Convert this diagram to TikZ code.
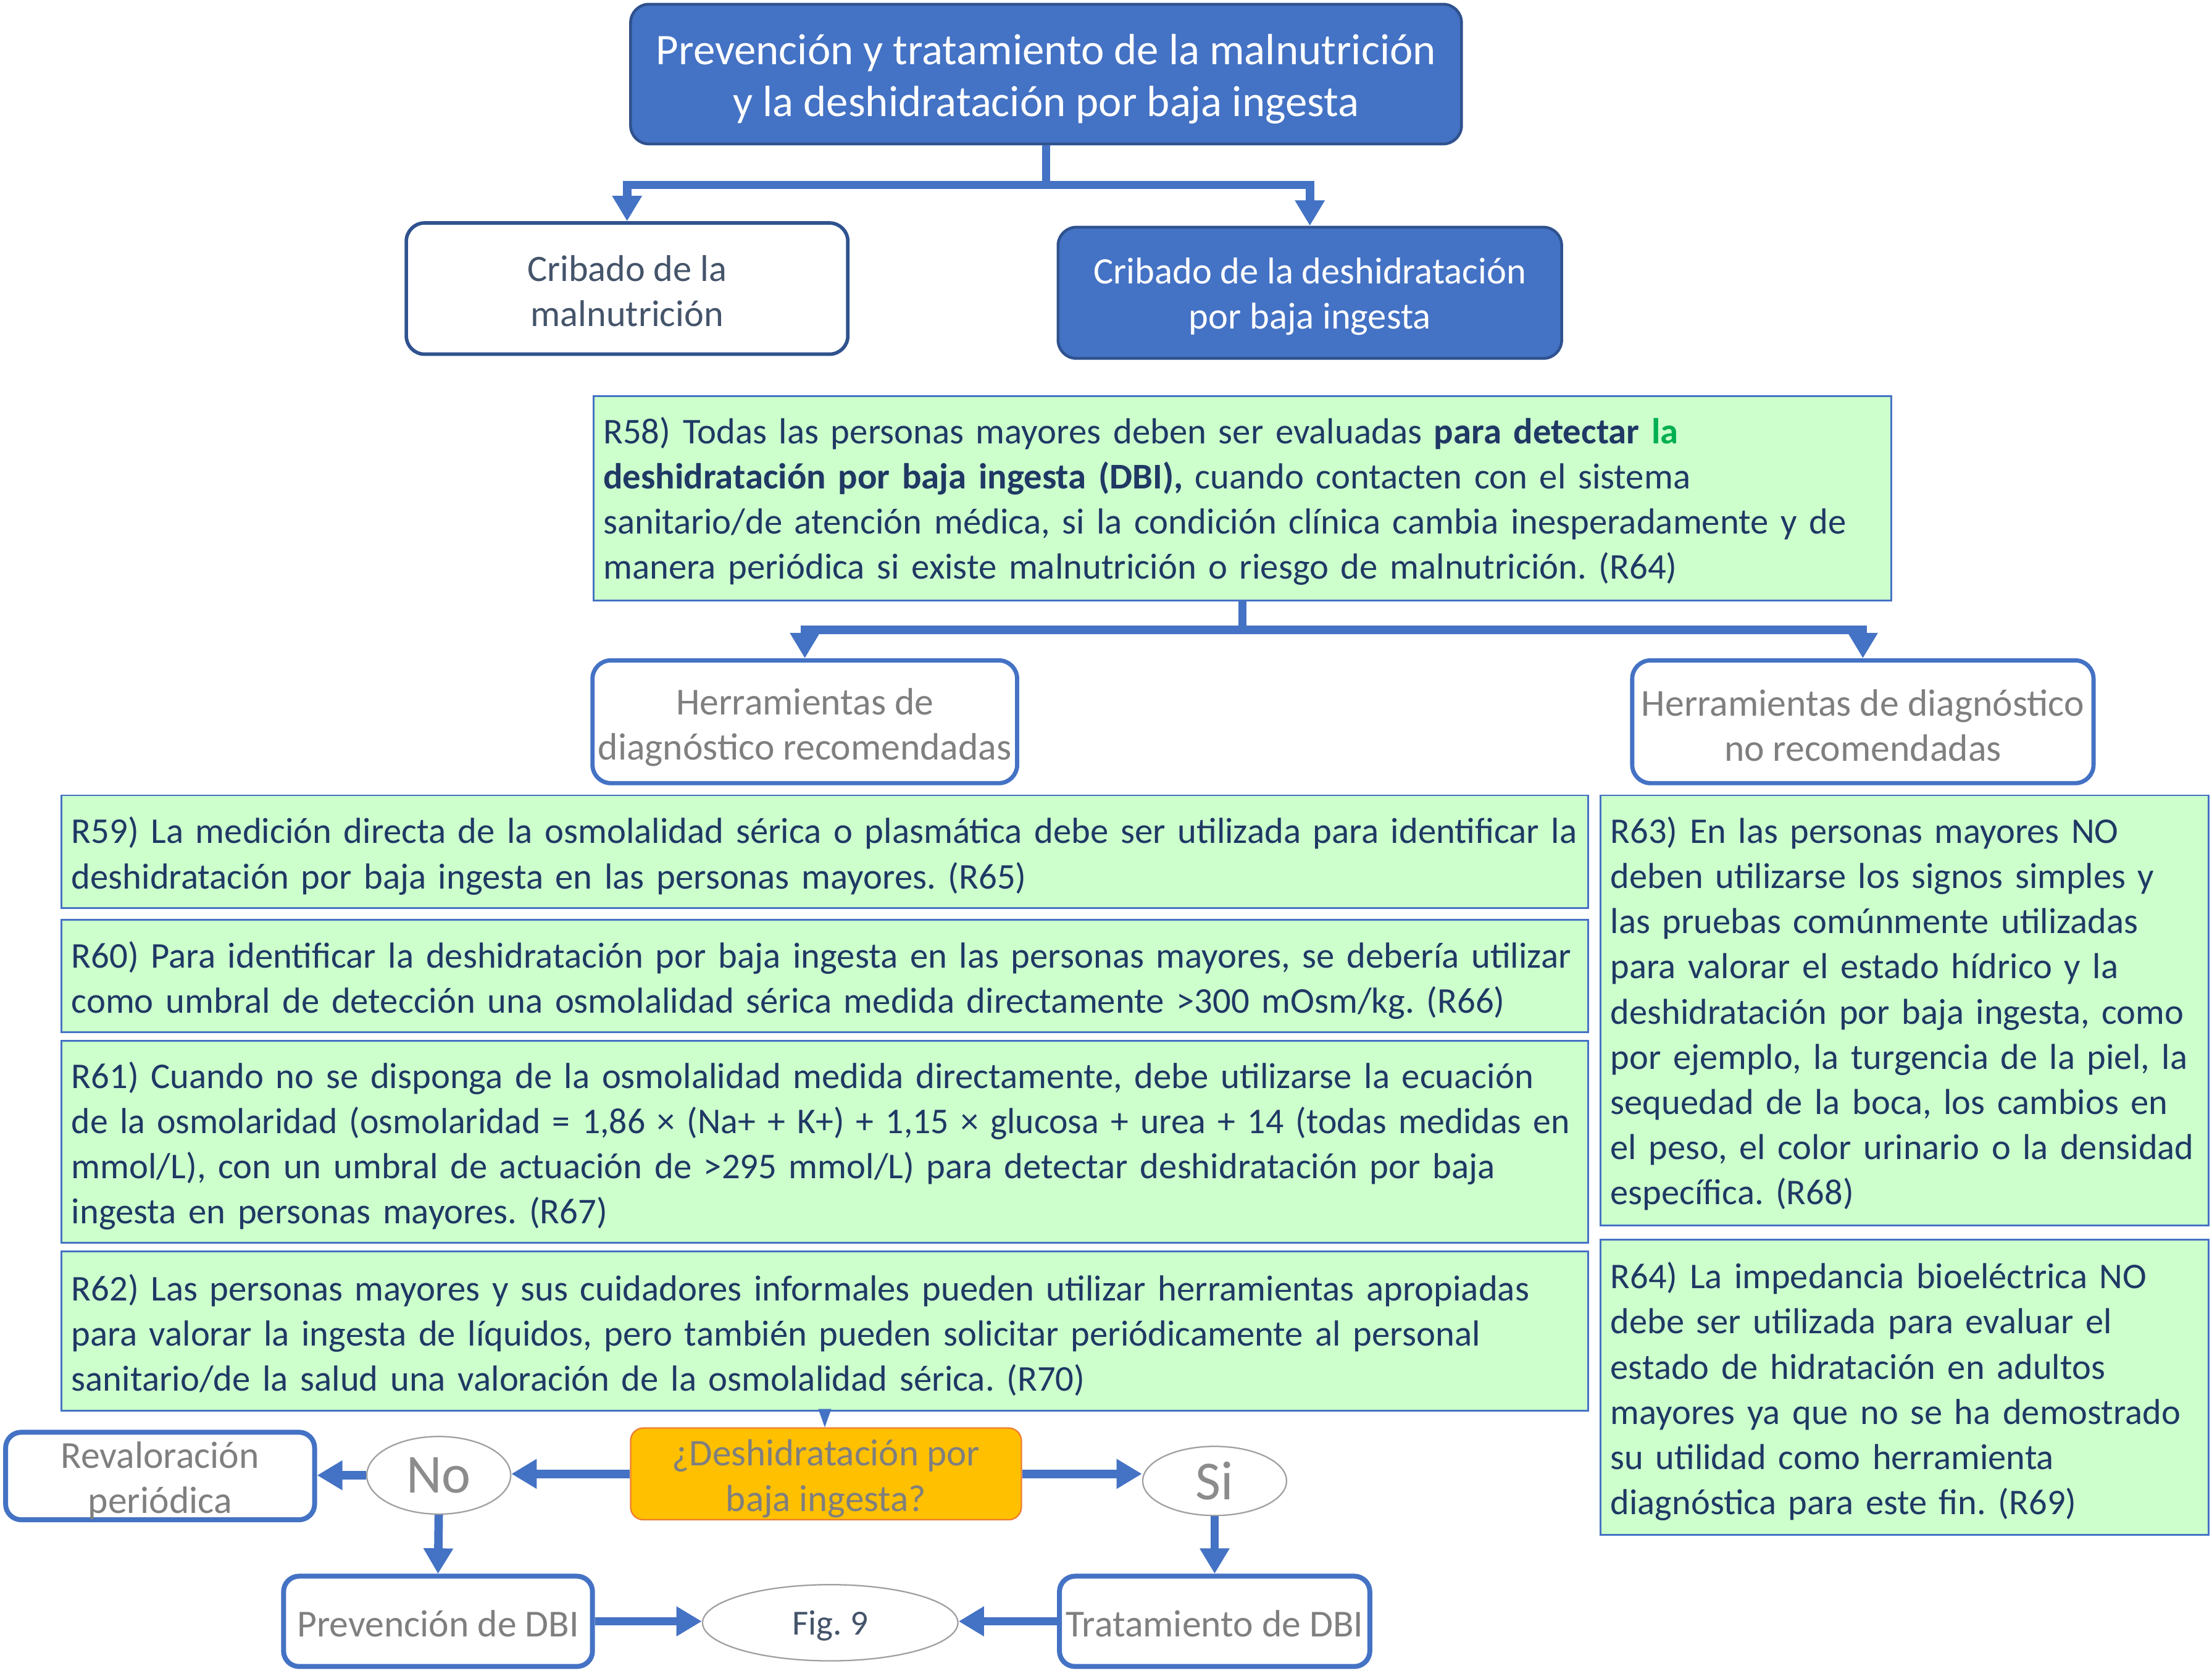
\documentclass[tikz,border=0pt]{standalone}
\usepackage{graphicx}
\usepackage{fontspec}
\setmainfont{Carlito}
\usetikzlibrary{arrows.meta,shapes.geometric}
\definecolor{bl}{HTML}{4472C4}
\definecolor{dbl}{HTML}{2F528F}
\definecolor{gr}{HTML}{CCFFCC}
\definecolor{navy}{HTML}{1F3864}
\definecolor{slate}{HTML}{44546A}
\definecolor{gtxt}{HTML}{7F7F7F}
\definecolor{gold}{HTML}{FFC000}
\definecolor{orng}{HTML}{ED7D31}
\definecolor{grn}{HTML}{00B050}
\definecolor{ellg}{HTML}{A0A0A0}
\newcommand\Lx[1]{\mbox{#1}}
\newcommand\Up[1]{\rule{0pt}{#1em}}
\frenchspacing
\tikzset{
  bluebox/.style={draw=dbl, line width=2pt, fill=bl, rounded corners=13pt, text=white, align=center, inner sep=0pt},
  wbox/.style={draw=dbl, line width=2.5pt, fill=white, rounded corners=13pt, text=slate, align=center, inner sep=0pt},
  hbox/.style={draw=bl, line width=3pt, fill=white, rounded corners=13pt, text=gtxt, align=center, inner sep=0pt, font=\fontsize{27}{32}\selectfont},
  sbox/.style={draw=bl, line width=3.5pt, fill=white, rounded corners=11pt, text=gtxt, align=center, inner sep=0pt, font=\fontsize{27}{32}\selectfont},
  rbox/.style={draw=bl, line width=1.3pt, fill=gr, anchor=north west, inner xsep=7pt, inner ysep=0pt, align=left, text=navy, font=\fontsize{25.7}{32}\selectfont},
  rboxr/.style={rbox, font=\fontsize{25.6}{32}\selectfont},
  ell/.style={ellipse, draw=ellg, line width=1pt, fill=white, inner sep=0pt},
  conn/.style={draw=bl, line width=6pt, -{Triangle[width=20pt,length=18pt]}},
}
\begin{document}
\begin{tikzpicture}[x=1pt,y=-1pt]
\useasboundingbox[fill=white] (0,0) rectangle (1568,1184);

% top
\node[bluebox, minimum width=589pt, minimum height=99pt, font=\fontsize{31}{37}\selectfont] (title) at (741.5,52.5)
  {\Up{0.92}Prevención y tratamiento de la malnutrición\\y la deshidratación por baja ingesta};
\node[wbox, minimum width=313pt, minimum height=93pt, font=\fontsize{26.4}{32}\selectfont] (cm) at (444.5,204.5)
  {\Up{0.84}Cribado de la\\malnutrición};
\node[bluebox, minimum width=357pt, minimum height=93pt, font=\fontsize{26.5}{32}\selectfont] (cd) at (928.5,207.5)
  {\Up{0.9}Cribado de la deshidratación\\por baja ingesta};

\draw[conn] (title.south) -- ++(0,28) -| (cm.north);
\draw[conn] (title.south) -- ++(0,28) -| (cd.north);

% R58
\node[rbox, minimum width=920pt, minimum height=145pt, text width=906pt] (r58) at (420,280)
  {\Lx{\Up{0.89}R58) Todas las personas mayores deben ser evaluadas \textbf{para detectar} \textcolor{grn}{\textbf{la}}}\\
   \Lx{\textbf{deshidratación por baja ingesta (DBI),} cuando contacten con el sistema}\\
   \Lx{sanitario/de atención médica, si la condición clínica cambia inesperadamente y de}\\
   \Lx{manera periódica si existe malnutrición o riesgo de malnutrición. (R64)}};

\node[hbox, minimum width=301pt, minimum height=87pt] (her1) at (570.5,511.5)
  {\Up{0.98}Herramientas de\\diagnóstico recomendadas};
\node[hbox, minimum width=327pt, minimum height=87pt] (her2) at (1320.5,511.5)
  {\Up{0.9}Herramientas de diagnóstico\\no recomendadas};

\draw[conn] (r58.south) -- ++(0,20) -| (her1.north);
\draw[conn] (r58.south) -- ++(0,20) -| (her2.north);

% left column
\node[rbox, minimum width=1082pt, minimum height=80pt, text width=1068pt] (r59) at (43,563)
  {\Lx{\Up{0.96}R59) La medición directa de la osmolalidad sérica o plasmática debe ser utilizada para identificar la}\\
   \Lx{deshidratación por baja ingesta en las personas mayores. (R65)}};
\node[rbox, minimum width=1082pt, minimum height=80pt, text width=1068pt] (r60) at (43,651)
  {\Lx{\Up{0.96}R60) Para identificar la deshidratación por baja ingesta en las personas mayores, se debería utilizar}\\
   \Lx{como umbral de detección una osmolalidad sérica medida directamente >300 mOsm/kg. (R66)}};
\node[rbox, minimum width=1082pt, minimum height=143pt, text width=1068pt] (r61) at (43,737)
  {\Lx{\Up{0.96}R61) Cuando no se disponga de la osmolalidad medida directamente, debe utilizarse la ecuación}\\
   \scalebox{0.984}[1]{de la osmolaridad (osmolaridad = 1,86 × (Na+ + K+) + 1,15 × glucosa + urea + 14 (todas medidas en}\\
   \Lx{mmol/L), con un umbral de actuación de >295 mmol/L) para detectar deshidratación por baja}\\
   \Lx{ingesta en personas mayores. (R67)}};
\node[rbox, minimum width=1082pt, minimum height=113pt, text width=1068pt] (r62) at (43,886)
  {\Lx{\Up{0.96}R62) Las personas mayores y sus cuidadores informales pueden utilizar herramientas apropiadas}\\
   \Lx{para valorar la ingesta de líquidos, pero también pueden solicitar periódicamente al personal}\\
   \Lx{sanitario/de la salud una valoración de la osmolalidad sérica. (R70)}};

% right column
\node[rboxr, minimum width=431pt, minimum height=305pt, text width=417pt] (r63) at (1134,563)
  {\Lx{\Up{0.9}R63) En las personas mayores NO}\\
   \Lx{deben utilizarse los signos simples y}\\
   \Lx{las pruebas comúnmente utilizadas}\\
   \Lx{para valorar el estado hídrico y la}\\
   \Lx{deshidratación por baja ingesta, como}\\
   \Lx{por ejemplo, la turgencia de la piel, la}\\
   \Lx{sequedad de la boca, los cambios en}\\
   \Lx{el peso, el color urinario o la densidad}\\
   \Lx{específica. (R68)}};
\node[rboxr, minimum width=431pt, minimum height=209pt, text width=417pt] (r64) at (1134,878)
  {\Lx{\Up{0.96}R64) La impedancia bioeléctrica NO}\\
   \Lx{debe ser utilizada para evaluar el}\\
   \Lx{estado de hidratación en adultos}\\
   \Lx{mayores ya que no se ha demostrado}\\
   \Lx{su utilidad como herramienta}\\
   \Lx{diagnóstica para este fin. (R69)}};

% decision area
\node[draw=orng, line width=1pt, fill=gold, rounded corners=9pt, text=gtxt, align=center, inner sep=0pt,
      minimum width=277pt, minimum height=65pt, font=\fontsize{26.7}{32}\selectfont] (dec) at (585.5,1044.5)
  {\Up{0.95}¿Deshidratación por\\baja ingesta?};
\draw[draw=bl, line width=1pt, -{Triangle[width=9pt,length=13pt]}] (r62.south) -- (r62.south |- dec.north);

\node[ell, minimum width=102pt, minimum height=55pt, text=gtxt!90, font=\fontsize{39}{42}\selectfont] (no) at (311,1045.5) {No};
\node[ell, minimum width=102pt, minimum height=49pt, text=gtxt!90, font=\fontsize{39}{42}\selectfont] (si) at (861,1049.5) {Si};
\node[sbox, minimum width=219pt, minimum height=62pt] (rev) at (113.5,1046) {\Up{0.92}Revaloración\\periódica};
\node[sbox, minimum width=219pt, minimum height=64pt] (prev) at (310.5,1149) {\Up{0.83}Prevención de DBI};
\node[sbox, minimum width=220pt, minimum height=64pt] (trat) at (861,1149) {\Up{0.83}Tratamiento de DBI};
\node[ell, minimum width=181pt, minimum height=54pt, text=slate, font=\fontsize{25}{30}\selectfont] (fig) at (588.5,1150) {\Up{0.85}Fig. 9};

\draw[conn] (dec.west) -- (dec.west -| no.east);
\draw[conn] (no.west) -- (no.west -| rev.east);
\draw[conn] (dec.east) -- (dec.east -| si.west);
\draw[conn] (no.south) -- (prev.north);
\draw[conn] (si.south) -- (trat.north);
\draw[conn] (prev.east) -- (prev.east -| fig.west);
\draw[conn] (trat.west) -- (trat.west -| fig.east);
\end{tikzpicture}
\end{document}
